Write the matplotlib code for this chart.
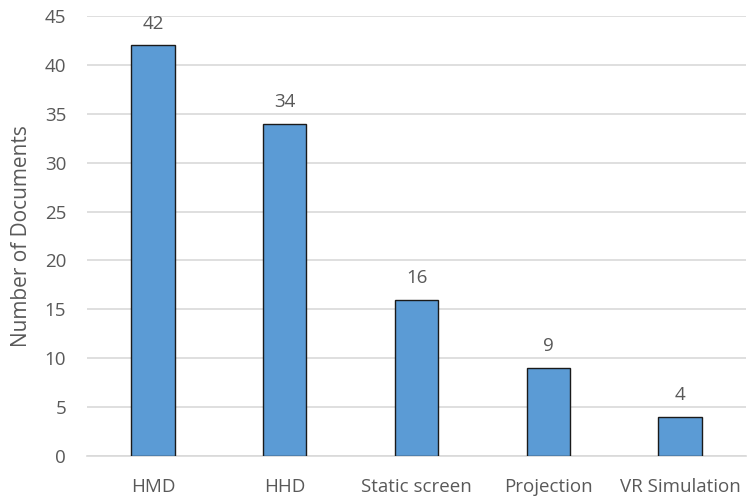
import matplotlib.pyplot as plt
import numpy as np

plt.rcParams["font.family"] = ["Open Sans", "DejaVu Sans"]

categories = ["HMD", "HHD", "Static screen", "Projection", "VR Simulation"]
counts = [42, 34, 16, 9, 4]

TEXT = "#595959"
BAR = "#5B9BD5"
GRID = "#D9D9D9"

fig = plt.figure(figsize=(7.48, 4.99), dpi=100)
ax = fig.add_axes([87 / 748, 1 - 456 / 499, 659 / 748, 440 / 499])

x = np.arange(len(categories))
bars = ax.bar(x, counts, width=0.33, color=BAR, edgecolor="#1a1a1a",
              linewidth=1.0, zorder=3)
for b, v in zip(bars, counts):
    ax.text(b.get_x() + b.get_width() / 2, v + 1.3, str(v),
            ha="center", va="bottom", fontsize=13.5, color=TEXT)

ax.set_xlim(-0.5, len(categories) - 0.5)
ax.set_ylim(0, 45)
ax.set_yticks(np.arange(0, 46, 5))
ax.yaxis.grid(True, color=GRID, linewidth=1.2, zorder=0)
ax.set_xticks(x)
ax.set_xticklabels(categories)
ax.tick_params(axis="both", length=0, labelsize=13.5, colors=TEXT)
ax.tick_params(axis="x", pad=16)
ax.tick_params(axis="y", pad=15)
for s in ("top", "right", "left"):
    ax.spines[s].set_visible(False)
ax.spines["bottom"].set_color(GRID)
ax.spines["bottom"].set_linewidth(1.2)
ax.set_ylabel("Number of Documents", fontsize=15, color=TEXT, labelpad=9)

fig.savefig("out.png", dpi=100)
